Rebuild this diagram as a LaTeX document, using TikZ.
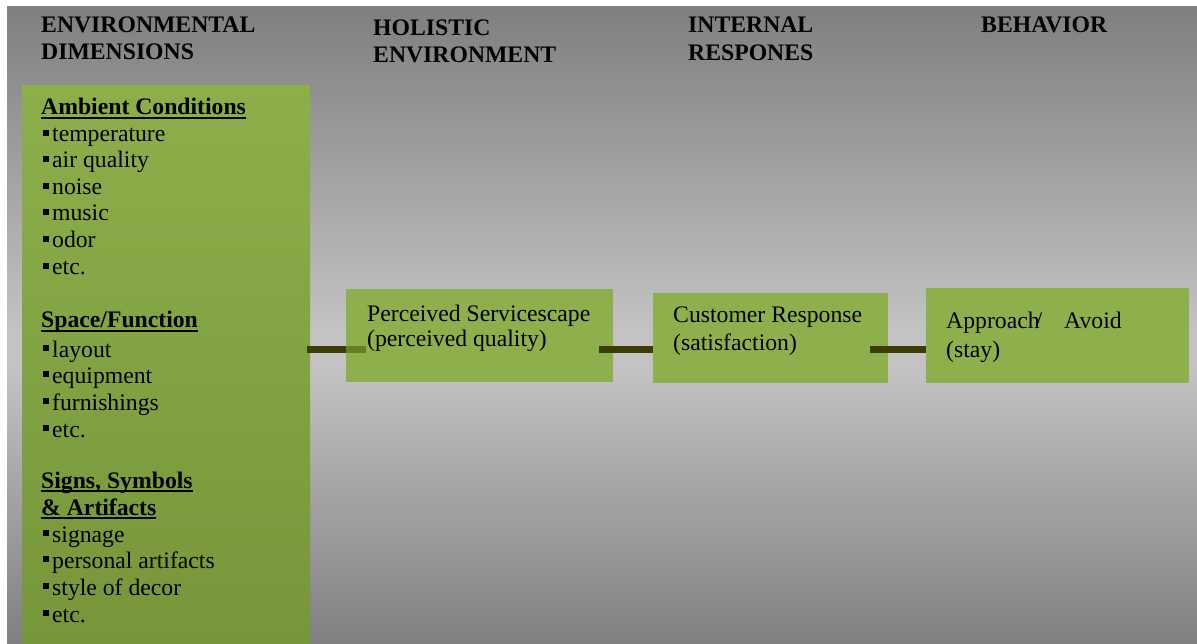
\documentclass[tikz,border=0pt]{standalone}
\usepackage{fontspec}
\setmainfont{Liberation Serif}
\definecolor{bgdark}{HTML}{7F7F7F}
\definecolor{bglight}{HTML}{C3C3C3}
\definecolor{leaftop}{HTML}{8DAF4A}
\definecolor{leafbot}{HTML}{76963A}
\definecolor{leaf}{HTML}{8EB04C}
\definecolor{stem}{HTML}{3D3D00}
% small square bullet and thick underline for the group headings
\newcommand\sqbullet{\rule[6pt]{6pt}{6pt}\hspace{3pt}}
\newcommand\headul[1]{\setbox0\hbox{#1}\rlap{\rule[-4pt]{\wd0}{2.4pt}}\box0}
\begin{document}
\begin{tikzpicture}[x=1pt,y=-1pt,
  txt/.style={anchor=base west, inner sep=0pt, font=\fontsize{23.7}{27}\selectfont},
  head/.style={txt, font=\fontsize{23.7}{27}\selectfont\bfseries},
  greenbox/.style={fill=leaf, draw=none, anchor=north west, inner sep=0pt},
  link/.style={draw=stem, line width=7pt}]
\useasboundingbox (0,0) rectangle (1197,644);
\fill[white] (0,0) rectangle (1197,644);
% backdrop: dark at top and bottom, light band in the middle
\shade[top color=bgdark, bottom color=bglight] (7,7) rectangle (1197,330);
\fill[bglight] (7,329) rectangle (1197,371);
\shade[top color=bglight, bottom color=bgdark] (7,370) rectangle (1197,644);

% column headings
\node[head] (h1a) at (41,33) {ENVIRONMENTAL};
\node[head] (h1b) at (41,60) {DIMENSIONS};
\node[head] (h2a) at (373,36) {HOLISTIC};
\node[head] (h2b) at (373,63) {ENVIRONMENT};
\node[head] (h3a) at (688,33) {INTERNAL};
\node[head] (h3b) at (688,61) {RESPONES};
\node[head] (h4a) at (981,33) {BEHAVIOR};

% environmental dimensions column
\node[anchor=north west, inner sep=0pt, minimum width=288, minimum height=559,
      top color=leaftop, bottom color=leafbot] (dims) at (22,85) {};

\node[head] (amb) at (41,115) {\headul{Ambient Conditions}};
\foreach \yy/\word [count=\i] in {142/temperature, 168/air quality, 195/noise,
    221/music, 248/odor, 275/etc.}
  \node[txt] (amb\i) at (43,\yy) {\sqbullet\word};

\node[head] (spc) at (41,328) {\headul{Space/Function}};
\foreach \yy/\word [count=\i] in {357/layout, 383/equipment, 410/furnishings, 437/etc.}
  \node[txt] (spc\i) at (43,\yy) {\sqbullet\word};

\node[head] (sgn) at (41,488) {\headul{Signs, Symbols}};
\node[head] (sgnb) at (41,515) {\headul{\& Artifacts}};
\foreach \yy/\word [count=\i] in {542/signage, 568/personal artifacts,
    595/style of decor, 622/etc.}
  \node[txt] (sgn\i) at (43,\yy) {\sqbullet\word};

% boxes of the chain
\node[greenbox, minimum width=267, minimum height=93] (serv) at (346,289) {};
\node[greenbox, minimum width=235, minimum height=90] (resp) at (653,293) {};
\node[greenbox, minimum width=263, minimum height=95] (beh) at (926,288) {};

% first connector: solid up to the box edge, faint where it runs into the box
\coordinate (l1end) at (366,350);
\draw[link] ([xshift=-3pt]dims.east |- l1end) -- (serv.west |- l1end);
\draw[link, draw opacity=0.45] (serv.west |- l1end) -- (l1end);

\coordinate (l2start) at ([xshift=-14pt]serv.east |- l1end);
\coordinate (l3start) at ([xshift=-18pt]resp.east |- l1end);
\draw[link] (l2start) -- (resp.west |- l2start);
\draw[link] (l3start) -- (beh.west |- l3start);

% box texts
\node[txt] (serv1) at (367,322) {Perceived Servicescape};
\node[txt] (serv2) at (367,347) {(perceived quality)};
\node[txt] (resp1) at (673,323) {Customer Response};
\node[txt] (resp2) at (673,350) {(satisfaction)};
\node[txt] (beh1) at (946,329) {Approach\kern-4pt/\hspace{22pt}Avoid};
\node[txt] (beh2) at (946,358) {(stay)};
\end{tikzpicture}
\end{document}
